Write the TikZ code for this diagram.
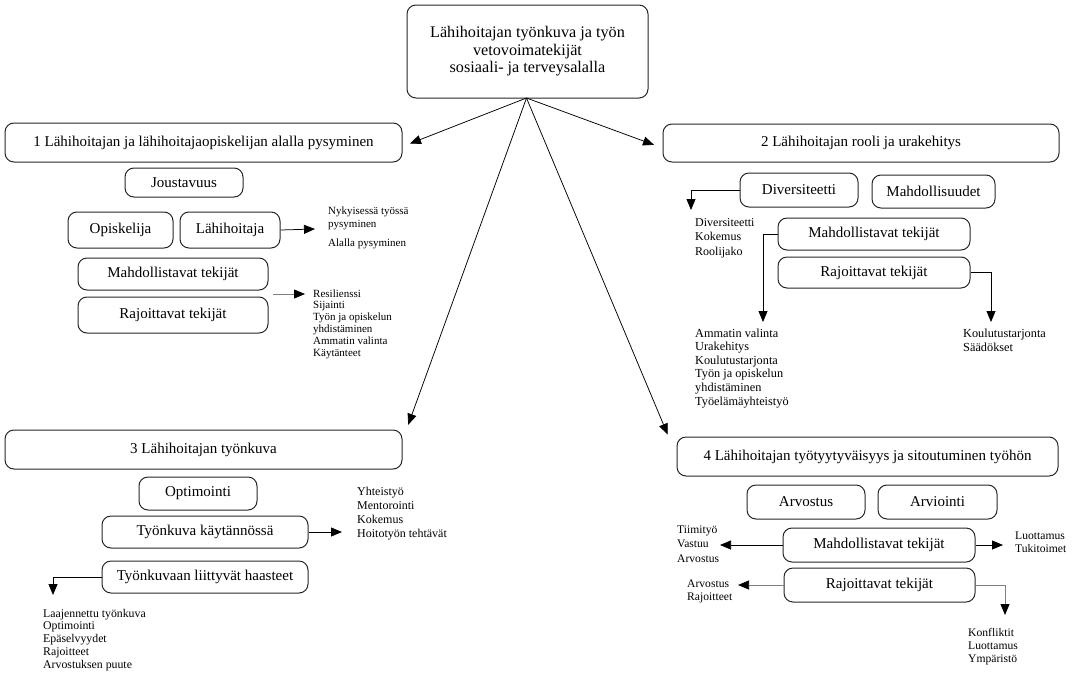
\documentclass[tikz,border=0pt]{standalone}
\usepackage{fontspec}
\setmainfont{Liberation Serif}
\usetikzlibrary{arrows.meta}
\newcommand{\itemlist}[3]{{\fontsize{#1}{#2}\selectfont\begin{tabular}[t]{@{}l@{}}#3\end{tabular}}}
\begin{document}
\begin{tikzpicture}[x=1pt,y=-1pt,
 box/.style={draw=black!85, line width=1pt, rounded corners=9pt, inner sep=0pt, align=center, font=\fontsize{15}{17}\selectfont},
 lst/.style={anchor=base west, inner sep=0pt},
 arr/.style={draw=black, line width=0.75pt, -{Triangle[length=11pt,width=9pt,color=black]}},
 garr/.style={arr, draw=black!50},
]
\useasboundingbox (0,0) rectangle (1075,672);
% top
\node[box, minimum width=241pt, minimum height=93pt, font=\fontsize{16.2}{17.5}\selectfont] (top) at (527.5,51.5) {Lähihoitajan työnkuva ja työn\\vetovoimatekijät\\sosiaali- ja terveysalalla};
% section boxes
\node[box, minimum width=397pt, minimum height=39pt] (b1) at (203.5,142.5) {1 Lähihoitajan ja lähihoitajaopiskelijan alalla pysyminen};
\node[box, minimum width=396pt, minimum height=38pt] (b2) at (861,143) {2 Lähihoitajan rooli ja urakehitys};
\node[box, minimum width=397pt, minimum height=39pt] (b3) at (203.5,449.5) {3 Lähihoitajan työnkuva};
\node[box, minimum width=381pt, minimum height=39pt] (b4) at (867.5,456.5) {4 Lähihoitajan työtyytyväisyys ja sitoutuminen työhön};
% section 1
\node[box, minimum width=118pt, minimum height=29pt] (jou) at (184,182.5) {Joustavuus};
\node[box, minimum width=105pt, minimum height=36pt] (opi) at (120.5,230) {Opiskelija};
\node[box, minimum width=100pt, minimum height=36pt] (lah) at (230,230) {Lähihoitaja};
\node[box, minimum width=190pt, minimum height=32pt] (m1) at (173,274) {Mahdollistavat tekijät};
\node[box, minimum width=190pt, minimum height=36pt] (r1) at (173,315) {Rajoittavat tekijät};
\node[lst] (l1a) at (328,214) {\itemlist{11}{13}{Nykyisessä työssä\\pysyminen}};
\node[lst] (l1b) at (328,246) {\itemlist{11}{13}{Alalla pysyminen}};
\node[lst] (l1c) at (313,297) {\itemlist{11}{11.8}{Resilienssi\\Sijainti\\Työn ja opiskelun\\yhdistäminen\\Ammatin valinta\\Käytänteet}};
\coordinate (a1) at (315,229);
\coordinate (c1s) at (273,294);
\coordinate (c1e) at (305,294);
\draw[arr] (lah.east) -- (a1);
\draw[garr] (c1s) -- (c1e);
% section 2
\node[box, minimum width=118pt, minimum height=34pt] (div) at (799,190) {Diversiteetti};
\node[box, minimum width=123pt, minimum height=33pt] (mah) at (933.5,191.5) {Mahdollisuudet};
\node[box, minimum width=192pt, minimum height=32pt] (m2) at (874,234) {Mahdollistavat tekijät};
\node[box, minimum width=192pt, minimum height=31pt] (r2) at (874,272.5) {Rajoittavat tekijät};
\node[lst] (l2a) at (695,226) {\itemlist{12}{14.5}{Diversiteetti\\Kokemus\\Roolijako}};
\node[lst] (l2b) at (695,337) {\itemlist{12.3}{13.6}{Ammatin valinta\\Urakehitys\\Koulutustarjonta\\Työn ja opiskelun\\yhdistäminen\\Työelämäyhteistyö}};
\node[lst] (l2c) at (963,337) {\itemlist{12.3}{14.5}{Koulutustarjonta\\Säädökset}};
\coordinate (a2a) at (691,210);
\coordinate (a2b) at (763,322);
\coordinate (a2c) at (991,322);
\draw[arr] (div.west) -| (a2a);
\draw[arr] (m2.west) -| (a2b);
\draw[arr] (r2.east) -| (a2c);
% section 3
\node[box, minimum width=118pt, minimum height=33pt] (opt) at (198,493.5) {Optimointi};
\node[box, minimum width=206pt, minimum height=32pt] (tyk) at (205,532) {Työnkuva käytännössä};
\node[box, minimum width=206pt, minimum height=32pt] (has) at (205,577) {Työnkuvaan liittyvät haasteet};
\node[lst] (l3a) at (357,495) {\itemlist{12}{14.3}{Yhteistyö\\Mentorointi\\Kokemus\\Hoitotyön tehtävät}};
\node[lst] (l3b) at (43,617) {\itemlist{11.8}{12.8}{Laajennettu työnkuva\\Optimointi\\Epäselvyydet\\Rajoitteet\\Arvostuksen puute}};
\coordinate (a3a) at (342,532);
\coordinate (a3b) at (53,595);
\draw[arr] (tyk.east) -- (a3a);
\draw[arr] (has.west) -| (a3b);
% section 4
\node[box, minimum width=118pt, minimum height=34pt] (arv) at (806,502) {Arvostus};
\node[box, minimum width=119pt, minimum height=34pt] (arn) at (937.5,502) {Arviointi};
\node[box, minimum width=192pt, minimum height=34pt] (m4) at (879,545) {Mahdollistavat tekijät};
\node[box, minimum width=191pt, minimum height=34pt] (r4) at (879.5,585) {Rajoittavat tekijät};
\node[lst] (l4a) at (677,533) {\itemlist{11.6}{14.5}{Tiimityö\\Vastuu\\Arvostus}};
\node[lst] (l4b) at (1015,539) {\itemlist{11.6}{13.5}{Luottamus\\Tukitoimet}};
\node[lst] (l4c) at (687,587) {\itemlist{11.6}{13}{Arvostus\\Rajoitteet}};
\node[lst] (l4d) at (968,636) {\itemlist{11.6}{13.3}{Konfliktit\\Luottamus\\Ympäristö}};
\coordinate (a4a) at (720,545);
\coordinate (a4b) at (1003,545);
\coordinate (a4c) at (738,585);
\coordinate (a4d) at (1005,615);
\draw[arr] (m4.west) -- (a4a);
\draw[arr] (m4.east) -- (a4b);
\draw[garr] (r4.west) -- (a4c);
\draw[garr] (r4.east) -| (a4d);
% main connectors
\coordinate (o) at (526.5,98);
\draw[arr, shorten >=8pt] (o) -- ([yshift=-4pt]b1.east);
\draw[arr, shorten >=9pt] (o) -- ([yshift=-5pt]b2.west);
\draw[arr, shorten >=5pt] (o) -- ([xshift=4pt]b3.north east);
\draw[arr, shorten >=2pt] (o) -- ([xshift=-8pt]b4.north west);
\end{tikzpicture}
\end{document}
